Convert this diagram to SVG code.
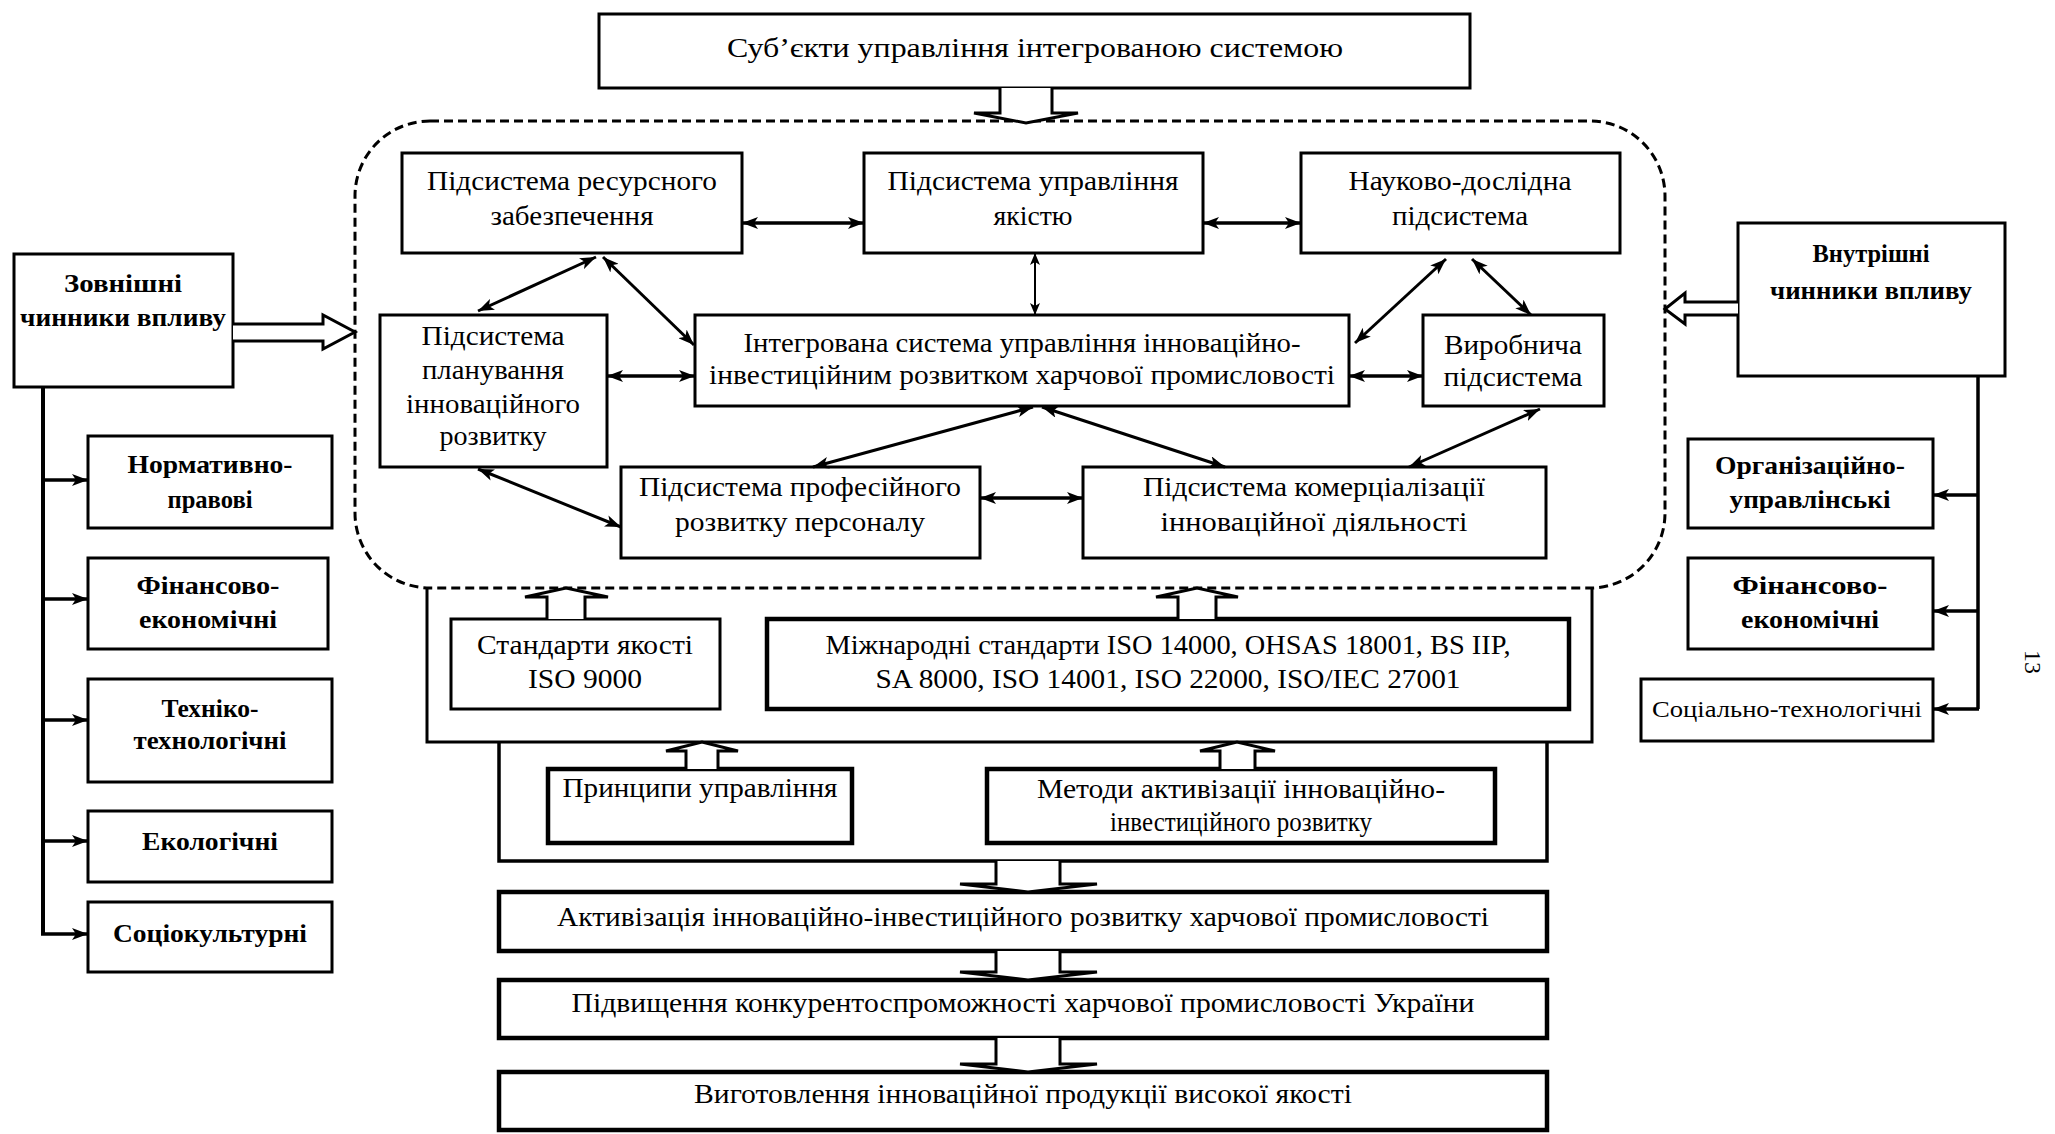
<svg xmlns="http://www.w3.org/2000/svg" width="2055" height="1134" viewBox="0 0 2055 1134">
<defs>
<style>
.bx{fill:#fff;stroke:#000;stroke-width:3}
.bxt{fill:#fff;stroke:#000;stroke-width:4.5}
.t{font-family:"Liberation Serif","Times New Roman",serif;font-size:27px;fill:#000;text-anchor:middle}
.tb{font-family:"Liberation Serif","Times New Roman",serif;font-size:26px;font-weight:bold;fill:#000;text-anchor:middle}
.tr{font-family:"Liberation Serif","Times New Roman",serif;font-size:24px;fill:#000;text-anchor:middle}
.ln{fill:none;stroke:#000;stroke-width:3.5}
.lnt{fill:none;stroke:#000;stroke-width:2}
.blk{fill:#fff;stroke:#000;stroke-width:3;stroke-linejoin:miter}
.dash{fill:none;stroke:#000;stroke-width:3;stroke-dasharray:9 5}
</style>
<marker id="ah" viewBox="0 0 16 12" refX="16" refY="6" markerWidth="16" markerHeight="12" markerUnits="userSpaceOnUse" orient="auto-start-reverse">
<path d="M0,0 L16,6 L0,12 L4,6 z" fill="#000"/>
</marker>
<marker id="ahs" viewBox="0 0 12 10" refX="12" refY="5" markerWidth="12" markerHeight="10" markerUnits="userSpaceOnUse" orient="auto-start-reverse">
<path d="M0,0 L12,5 L0,10 L3,5 z" fill="#000"/>
</marker>
</defs>
<rect width="2055" height="1134" fill="#fff"/>

<g id="system-boundary">
<path class="dash" d="M430,121 H1590 A75,75 0 0 1 1665,196 V513 A75,75 0 0 1 1590,588 H430 A75,75 0 0 1 355,513 V196 A75,75 0 0 1 430,121 Z"/>
</g>

<g id="subjects">
<rect class="bx" x="599" y="14" width="871" height="74"/>
<text class="t" x="1035" y="57" font-size="30" textLength="616" lengthAdjust="spacingAndGlyphs">Суб’єкти управління інтегрованою системою</text>
</g>

<g id="resource">
<rect class="bx" x="402" y="153" width="340" height="100"/>
<text class="t" x="572" y="190" textLength="290" lengthAdjust="spacingAndGlyphs">Підсистема ресурсного</text>
<text class="t" x="572" y="225" textLength="163" lengthAdjust="spacingAndGlyphs">забезпечення</text>
</g>
<g id="quality">
<rect class="bx" x="864" y="153" width="339" height="100"/>
<text class="t" x="1033" y="190" textLength="291" lengthAdjust="spacingAndGlyphs">Підсистема управління</text>
<text class="t" x="1033" y="225" textLength="79" lengthAdjust="spacingAndGlyphs">якістю</text>
</g>
<g id="research">
<rect class="bx" x="1301" y="153" width="319" height="100"/>
<text class="t" x="1460" y="190" textLength="223" lengthAdjust="spacingAndGlyphs">Науково-дослідна</text>
<text class="t" x="1460" y="225" textLength="136" lengthAdjust="spacingAndGlyphs">підсистема</text>
</g>
<g id="planning">
<rect class="bx" x="380" y="315" width="227" height="152"/>
<text class="t" x="493" y="345" textLength="143" lengthAdjust="spacingAndGlyphs">Підсистема</text>
<text class="t" x="493" y="379" textLength="142" lengthAdjust="spacingAndGlyphs">планування</text>
<text class="t" x="493" y="413" textLength="174" lengthAdjust="spacingAndGlyphs">інноваційного</text>
<text class="t" x="493" y="445" textLength="107" lengthAdjust="spacingAndGlyphs">розвитку</text>
</g>
<g id="integrated">
<rect class="bx" x="695" y="315" width="654" height="91"/>
<text class="t" x="1022" y="352" textLength="557" lengthAdjust="spacingAndGlyphs">Інтегрована система управління інноваційно-</text>
<text class="t" x="1022" y="384" textLength="626" lengthAdjust="spacingAndGlyphs">інвестиційним розвитком харчової промисловості</text>
</g>
<g id="production">
<rect class="bx" x="1423" y="315" width="181" height="91"/>
<text class="t" x="1513" y="354" textLength="138" lengthAdjust="spacingAndGlyphs">Виробнича</text>
<text class="t" x="1513" y="386" textLength="139" lengthAdjust="spacingAndGlyphs">підсистема</text>
</g>
<g id="personnel">
<rect class="bx" x="621" y="467" width="359" height="91"/>
<text class="t" x="800" y="496" textLength="322" lengthAdjust="spacingAndGlyphs">Підсистема професійного</text>
<text class="t" x="800" y="531" textLength="250" lengthAdjust="spacingAndGlyphs">розвитку персоналу</text>
</g>
<g id="commercial">
<rect class="bx" x="1083" y="467" width="463" height="91"/>
<text class="t" x="1314" y="496" textLength="342" lengthAdjust="spacingAndGlyphs">Підсистема комерціалізації</text>
<text class="t" x="1314" y="531" textLength="307" lengthAdjust="spacingAndGlyphs">інноваційної діяльності</text>
</g>

<g id="external">
<rect class="bx" x="14" y="254" width="219" height="133"/>
<text class="tb" x="123" y="292" textLength="118" lengthAdjust="spacingAndGlyphs">Зовнішні</text>
<text class="tb" x="123" y="326" textLength="206" lengthAdjust="spacingAndGlyphs">чинники впливу</text>
</g>
<g id="ext-legal">
<rect class="bx" x="88" y="436" width="244" height="92"/>
<text class="tb" x="210" y="473" textLength="165" lengthAdjust="spacingAndGlyphs">Нормативно-</text>
<text class="tb" x="210" y="508" textLength="85" lengthAdjust="spacingAndGlyphs">правові</text>
</g>
<g id="ext-finance">
<rect class="bx" x="88" y="558" width="240" height="91"/>
<text class="tb" x="208" y="594" textLength="143" lengthAdjust="spacingAndGlyphs">Фінансово-</text>
<text class="tb" x="208" y="628" textLength="138" lengthAdjust="spacingAndGlyphs">економічні</text>
</g>
<g id="ext-tech">
<rect class="bx" x="88" y="679" width="244" height="103"/>
<text class="tb" x="210" y="717" textLength="97" lengthAdjust="spacingAndGlyphs">Техніко-</text>
<text class="tb" x="210" y="749" textLength="153" lengthAdjust="spacingAndGlyphs">технологічні</text>
</g>
<g id="ext-eco">
<rect class="bx" x="88" y="811" width="244" height="71"/>
<text class="tb" x="210" y="850" textLength="136" lengthAdjust="spacingAndGlyphs">Екологічні</text>
</g>
<g id="ext-socio">
<rect class="bx" x="88" y="902" width="244" height="70"/>
<text class="tb" x="210" y="942" textLength="194" lengthAdjust="spacingAndGlyphs">Соціокультурні</text>
</g>

<g id="internal">
<rect class="bx" x="1738" y="223" width="267" height="153"/>
<text class="tb" x="1871" y="262" textLength="117" lengthAdjust="spacingAndGlyphs">Внутрішні</text>
<text class="tb" x="1871" y="299" textLength="202" lengthAdjust="spacingAndGlyphs">чинники впливу</text>
</g>
<g id="int-org">
<rect class="bx" x="1688" y="439" width="245" height="89"/>
<text class="tb" x="1810" y="474" textLength="190" lengthAdjust="spacingAndGlyphs">Організаційно-</text>
<text class="tb" x="1810" y="508" textLength="161" lengthAdjust="spacingAndGlyphs">управлінські</text>
</g>
<g id="int-finance">
<rect class="bx" x="1688" y="558" width="245" height="91"/>
<text class="tb" x="1810" y="594" textLength="155" lengthAdjust="spacingAndGlyphs">Фінансово-</text>
<text class="tb" x="1810" y="628" textLength="138" lengthAdjust="spacingAndGlyphs">економічні</text>
</g>
<g id="int-social">
<rect class="bx" x="1641" y="679" width="292" height="62"/>
<text class="tr" x="1787" y="717" textLength="270" lengthAdjust="spacingAndGlyphs">Соціально-технологічні</text>
</g>

<g id="standards-frame">
<path class="ln" style="stroke-width:3" d="M427,588 V742 H1592 V588"/>
</g>
<g id="iso9000">
<rect class="bx" x="451" y="619" width="269" height="90"/>
<text class="t" x="585" y="654" textLength="216" lengthAdjust="spacingAndGlyphs">Стандарти якості</text>
<text class="t" x="585" y="688" textLength="114" lengthAdjust="spacingAndGlyphs">ISO 9000</text>
</g>
<g id="intl-standards">
<rect class="bxt" x="767" y="619" width="802" height="90"/>
<text class="t" x="1168" y="654" textLength="685" lengthAdjust="spacingAndGlyphs">Міжнародні стандарти ISO 14000, OHSAS 18001, BS IIP,</text>
<text class="t" x="1168" y="688" textLength="585" lengthAdjust="spacingAndGlyphs">SA 8000, ISO 14001, ISO 22000, ISO/IEC 27001</text>
</g>
<g id="methods-frame">
<path class="ln" d="M499,742 V861 H1547 V742"/>
</g>
<g id="principles">
<rect class="bxt" x="548" y="769" width="304" height="74"/>
<text class="t" x="700" y="797" textLength="275" lengthAdjust="spacingAndGlyphs">Принципи управління</text>
</g>
<g id="methods">
<rect class="bxt" x="987" y="769" width="508" height="74"/>
<text class="t" x="1241" y="798" textLength="408" lengthAdjust="spacingAndGlyphs">Методи активізації інноваційно-</text>
<text class="t" x="1241" y="831" textLength="262" lengthAdjust="spacingAndGlyphs">інвестиційного розвитку</text>
</g>
<g id="activation">
<rect class="bxt" x="499" y="892" width="1048" height="59"/>
<text class="t" x="1023" y="926" textLength="932" lengthAdjust="spacingAndGlyphs">Активізація інноваційно-інвестиційного розвитку харчової промисловості</text>
</g>
<g id="competitiveness">
<rect class="bxt" x="499" y="980" width="1048" height="58"/>
<text class="t" x="1023" y="1012" textLength="903" lengthAdjust="spacingAndGlyphs">Підвищення конкурентоспроможності харчової промисловості України</text>
</g>
<g id="production-quality">
<rect class="bxt" x="499" y="1072" width="1048" height="58"/>
<text class="t" x="1023" y="1103" textLength="658" lengthAdjust="spacingAndGlyphs">Виготовлення інноваційної продукції високої якості</text>
</g>

<g id="page-number">
<text class="tr" x="2025" y="662" transform="rotate(90 2025 662)" font-size="26">13</text>
</g>

<g id="connectors">
<path class="blk" d="M1000,88 V113 H974 L1026,123 L1078,113 H1052 V88"/>
<path class="blk" d="M233,324 H323 V315 L355,332 L323,349 V341 H233"/>
<path class="blk" d="M1738,302 H1685 V293 L1665,309 L1685,324 V315 H1738"/>
<path class="blk" d="M547,619 V597 H525 L566,588 L608,597 H585 V619"/>
<path class="blk" d="M1178,619 V597 H1156 L1197,588 L1238,597 H1216 V619"/>
<path class="blk" d="M686,769 V751 H666 L702,742 L738,751 H718 V769"/>
<path class="blk" d="M1220,769 V751 H1200 L1237,742 L1275,751 H1255 V769"/>
<path class="blk" d="M996,861 V884 H960 L1028,892 L1097,884 H1060 V861"/>
<path class="blk" d="M996,951 V972 H960 L1028,980 L1097,972 H1060 V951"/>
<path class="blk" d="M996,1038 V1064 H960 L1028,1072 L1097,1064 H1060 V1038"/>

<line class="ln" x1="742" y1="223" x2="864" y2="223" marker-start="url(#ah)" marker-end="url(#ah)"/>
<line class="ln" x1="1203" y1="223" x2="1301" y2="223" marker-start="url(#ah)" marker-end="url(#ah)"/>
<line class="lnt" x1="1035" y1="253" x2="1035" y2="315" marker-start="url(#ahs)" marker-end="url(#ahs)"/>
<line class="ln" style="stroke-width:3" x1="596" y1="257" x2="478" y2="311" marker-start="url(#ah)" marker-end="url(#ah)"/>
<line class="ln" style="stroke-width:3" x1="603" y1="257" x2="694" y2="345" marker-start="url(#ah)" marker-end="url(#ah)"/>
<line class="ln" x1="607" y1="376" x2="695" y2="376" marker-start="url(#ah)" marker-end="url(#ah)"/>
<line class="ln" x1="1349" y1="376" x2="1423" y2="376" marker-start="url(#ah)" marker-end="url(#ah)"/>
<line class="ln" style="stroke-width:3" x1="1446" y1="259" x2="1355" y2="343" marker-start="url(#ah)" marker-end="url(#ah)"/>
<line class="ln" style="stroke-width:3" x1="1472" y1="259" x2="1531" y2="315" marker-start="url(#ah)" marker-end="url(#ah)"/>
<line class="ln" style="stroke-width:3" x1="1033" y1="407" x2="813" y2="467" marker-start="url(#ah)" marker-end="url(#ah)"/>
<line class="ln" style="stroke-width:3" x1="1042" y1="407" x2="1225" y2="467" marker-start="url(#ah)" marker-end="url(#ah)"/>
<line class="ln" style="stroke-width:3" x1="1540" y1="409" x2="1409" y2="467" marker-start="url(#ah)" marker-end="url(#ah)"/>
<line class="ln" style="stroke-width:3" x1="478" y1="469" x2="621" y2="527" marker-start="url(#ah)" marker-end="url(#ah)"/>
<line class="ln" x1="980" y1="498" x2="1083" y2="498" marker-start="url(#ah)" marker-end="url(#ah)"/>

<path class="ln" style="stroke-width:4" d="M43,387 V934"/>
<line class="ln" x1="41" y1="480" x2="88" y2="480" marker-end="url(#ah)"/>
<line class="ln" x1="41" y1="599" x2="88" y2="599" marker-end="url(#ah)"/>
<line class="ln" x1="41" y1="720" x2="88" y2="720" marker-end="url(#ah)"/>
<line class="ln" x1="41" y1="841" x2="88" y2="841" marker-end="url(#ah)"/>
<line class="ln" x1="41" y1="934" x2="88" y2="934" marker-end="url(#ah)"/>

<path class="ln" d="M1978,376 V709"/>
<line class="ln" x1="1979" y1="495" x2="1933" y2="495" marker-end="url(#ah)"/>
<line class="ln" x1="1979" y1="611" x2="1933" y2="611" marker-end="url(#ah)"/>
<line class="ln" x1="1979" y1="709" x2="1933" y2="709" marker-end="url(#ah)"/>
</g>
</svg>
